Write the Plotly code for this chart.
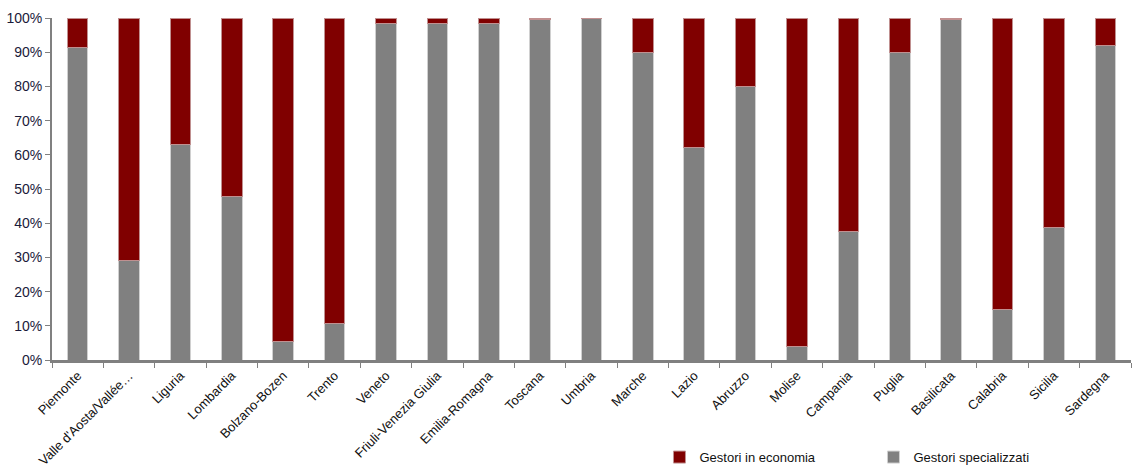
import plotly.graph_objects as go

regions = ["Piemonte", "Valle d'Aosta/Vallée…", "Liguria", "Lombardia", "Bolzano-Bozen",
           "Trento", "Veneto", "Friuli-Venezia Giulia", "Emilia-Romagna", "Toscana",
           "Umbria", "Marche", "Lazio", "Abruzzo", "Molise", "Campania", "Puglia",
           "Basilicata", "Calabria", "Sicilia", "Sardegna"]
specializzati = [91.5, 29.2, 62.9, 47.7, 5.3, 10.8, 98.5, 98.5, 98.5, 99.5,
                 100.0, 90.0, 62.0, 80.0, 4.0, 37.5, 90.0, 99.5, 14.7, 38.6, 92.0]
economia = [round(100 - v, 1) for v in specializzati]

fig = go.Figure()
fig.add_trace(go.Bar(x=regions, y=specializzati, name="Gestori specializzati",
                     marker=dict(color="#808080", line=dict(color="#d0d0d0", width=1))))
fig.add_trace(go.Bar(x=regions, y=economia, name="Gestori in economia",
                     marker=dict(color="#800000", line=dict(color="#c09090", width=1))))

fig.update_layout(
    barmode="stack", bargap=0.6,
    width=1145, height=473,
    margin=dict(l=52, r=14, t=18, b=113, autoexpand=False),
    plot_bgcolor="white", paper_bgcolor="white",
    font=dict(family="Liberation Sans, Arial", color="#111111"),
    showlegend=True,
    legend=dict(orientation="h", traceorder="reversed", x=0.563, y=-0.284,
                xanchor="left", yanchor="middle", entrywidth=169,
                font=dict(size=13), itemwidth=30),
    xaxis=dict(tickangle=-45, tickfont=dict(size=13), showline=True, linecolor="#808080",
               linewidth=3, ticks="outside", tickson="boundaries", ticklen=5,
               tickcolor="#808080", showgrid=False, automargin=False),
    yaxis=dict(range=[0, 100], tickvals=[0, 10, 20, 30, 40, 50, 60, 70, 80, 90, 100],
               ticktext=[f"{v}%" for v in range(0, 101, 10)], tickfont=dict(size=14, color="#1a1a3a"),
               showline=True, linecolor="#808080", linewidth=2, ticks="outside", ticklen=5,
               tickcolor="#808080", showgrid=False, zeroline=False, automargin=False),
)
fig.write_html("out.html")
